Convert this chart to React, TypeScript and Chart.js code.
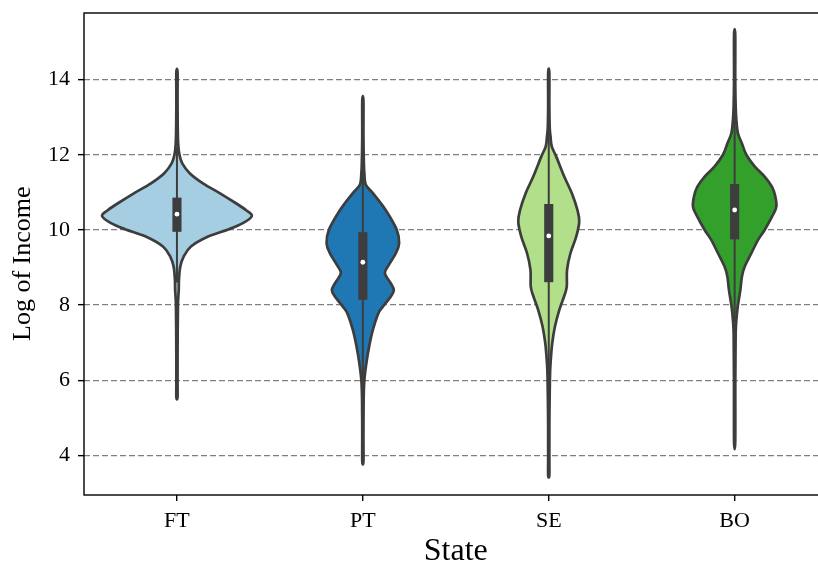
import React, { useEffect, useRef } from "react";
import { Chart, registerables } from "chart.js";

Chart.register(...registerables);

const categories = ["FT", "PT", "SE", "BO"];
const fillColors = ["#a6cee3", "#1f78b4", "#b2df8a", "#33a02c"];
const yTicks = [4, 6, 8, 10, 12, 14];

// density outlines: levels (Log of Income) and half-widths (in category units)
const ftLevels = [14.2, 13.5, 12.8, 12.3, 12.0, 11.77, 11.51, 11.24, 10.98, 10.71, 10.53, 10.37, 10.18, 10.02, 9.82, 9.56, 9.29, 9.02, 8.67, 8.4, 8.0, 7.0, 6.0, 5.55];
const ftHalfWidths = [0.0032, 0.0032, 0.004, 0.0065, 0.0134, 0.0285, 0.0683, 0.1398, 0.2296, 0.3172, 0.371, 0.403, 0.3548, 0.2796, 0.165, 0.0753, 0.036, 0.0177, 0.0108, 0.0097, 0.0054, 0.0036, 0.0032, 0.0032];

const ptLevels = [13.44, 12.5, 11.8, 11.5, 11.2, 10.98, 10.71, 10.44, 10.0, 9.65, 9.38, 9.07, 8.85, 8.58, 8.4, 8.23, 7.96, 7.78, 7.34, 6.9, 6.45, 6.0, 5.5, 4.5, 3.84];
const ptHalfWidths = [0.0032, 0.0032, 0.0054, 0.0081, 0.0161, 0.0538, 0.0968, 0.1344, 0.1828, 0.1952, 0.1774, 0.1398, 0.1183, 0.1505, 0.1667, 0.1505, 0.1075, 0.0833, 0.0538, 0.0339, 0.0188, 0.0081, 0.0043, 0.0032, 0.0032];

const seLevels = [14.18, 13.3, 12.7, 12.48, 12.22, 11.95, 11.42, 10.98, 10.53, 10.22, 9.82, 9.38, 8.94, 8.49, 8.23, 7.87, 7.43, 6.99, 6.54, 6.1, 5.0, 4.0, 3.48];
const seHalfWidths = [0.0032, 0.0032, 0.0054, 0.0097, 0.0161, 0.0403, 0.0833, 0.1237, 0.1543, 0.164, 0.1478, 0.1167, 0.0984, 0.0968, 0.0823, 0.0565, 0.0333, 0.0188, 0.0108, 0.0065, 0.0036, 0.0032, 0.0032];

const boLevels = [15.19, 14.0, 13.3, 12.93, 12.57, 12.3, 12.0, 11.69, 11.42, 11.15, 10.89, 10.62, 10.4, 10.0, 9.73, 9.38, 9.02, 8.76, 8.4, 8.0, 7.69, 7.25, 6.0, 4.37];
const boHalfWidths = [0.0032, 0.0032, 0.0054, 0.0091, 0.0177, 0.0392, 0.0629, 0.1075, 0.1613, 0.2005, 0.2188, 0.2242, 0.2059, 0.1613, 0.1253, 0.0898, 0.0538, 0.0392, 0.0306, 0.0177, 0.0108, 0.0054, 0.0036, 0.0032];

const violinLevels = [ftLevels, ptLevels, seLevels, boLevels];
const violinHalfWidths = [ftHalfWidths, ptHalfWidths, seHalfWidths, boHalfWidths];

const medians = [10.42, 9.14, 9.84, 10.53];
const q1 = [9.95, 8.14, 8.61, 9.75];
const q3 = [10.86, 9.94, 10.69, 11.22];
const whiskerLow = [8.6, 5.45, 5.5, 7.55];
const whiskerHigh = [12.2, 12.6, 13.8, 13.4];

const EDGE = "#3d3d3d";
const FONT = "'Liberation Serif', 'DejaVu Serif', serif";

type P = { x: number; y: number };

function closedSpline(ctx: CanvasRenderingContext2D, pts: P[]) {
  const n = pts.length;
  ctx.moveTo(pts[0].x, pts[0].y);
  for (let i = 0; i < n; i++) {
    const p0 = pts[(i - 1 + n) % n];
    const p1 = pts[i];
    const p2 = pts[(i + 1) % n];
    const p3 = pts[(i + 2) % n];
    ctx.bezierCurveTo(
      p1.x + (p2.x - p0.x) / 6,
      p1.y + (p2.y - p0.y) / 6,
      p2.x - (p3.x - p1.x) / 6,
      p2.y - (p3.y - p1.y) / 6,
      p2.x,
      p2.y
    );
  }
  ctx.closePath();
}

const violinPlugin = {
  id: "violins",
  beforeDatasetsDraw(chart: any) {
    const { ctx, chartArea } = chart;
    const xs = chart.scales.x;
    const ys = chart.scales.y;
    ctx.save();
    ctx.beginPath();
    ctx.rect(chartArea.left, chartArea.top, chartArea.right - chartArea.left, chartArea.bottom - chartArea.top);
    ctx.clip();
    categories.forEach((_, i) => {
      const lv = violinLevels[i];
      const hw = violinHalfWidths[i];
      const right: P[] = lv.map((v, k) => ({ x: xs.getPixelForValue(i + hw[k]), y: ys.getPixelForValue(v) }));
      const left: P[] = lv.map((v, k) => ({ x: xs.getPixelForValue(i - hw[k]), y: ys.getPixelForValue(v) })).reverse();
      const pts = right.concat(left);
      ctx.beginPath();
      closedSpline(ctx, pts);
      ctx.fillStyle = fillColors[i];
      ctx.fill();
      ctx.lineWidth = 2.7;
      ctx.lineJoin = "round";
      ctx.lineCap = "round";
      ctx.strokeStyle = EDGE;
      ctx.stroke();

      // whisker line
      const cx = xs.getPixelForValue(i);
      ctx.beginPath();
      ctx.moveTo(cx, ys.getPixelForValue(whiskerLow[i]));
      ctx.lineTo(cx, ys.getPixelForValue(whiskerHigh[i]));
      ctx.lineWidth = 2;
      ctx.lineCap = "butt";
      ctx.strokeStyle = EDGE;
      ctx.stroke();

      // box
      const bl = xs.getPixelForValue(i - 0.0245);
      const br = xs.getPixelForValue(i + 0.0245);
      const bt = ys.getPixelForValue(q3[i]);
      const bb = ys.getPixelForValue(q1[i]);
      ctx.fillStyle = EDGE;
      ctx.fillRect(bl, bt, br - bl, bb - bt);
    });
    ctx.restore();
  },
};

const framePlugin = {
  id: "frame",
  afterDraw(chart: any) {
    const { ctx, chartArea } = chart;
    ctx.save();
    ctx.strokeStyle = "#000";
    ctx.lineWidth = 1.4;
    ctx.strokeRect(chartArea.left, chartArea.top, chartArea.right - chartArea.left, chartArea.bottom - chartArea.top);
    ctx.restore();
  },
};

export default function App() {
  const ref = useRef<HTMLCanvasElement | null>(null);
  useEffect(() => {
    if (!ref.current) return;
    const chart = new Chart(ref.current, {
      type: "scatter",
      data: {
        datasets: [
          {
            label: "median",
            data: medians.map((m, i) => ({ x: i, y: m })),
            pointRadius: 2.4,
            pointHoverRadius: 2.4,
            backgroundColor: "#ffffff",
            borderWidth: 0,
          },
        ],
      },
      options: {
        responsive: false,
        animation: false,
        devicePixelRatio: 1,
        layout: { padding: { top: 13, right: 2, left: 0, bottom: 0 } },
        plugins: { legend: { display: false }, tooltip: { enabled: false } },
        scales: {
          x: {
            type: "linear",
            min: -0.5,
            max: 3.5,
            afterBuildTicks: (s: any) => {
              s.ticks = categories.map((_, i) => ({ value: i }));
            },
            afterFit: (s: any) => {
              s.height = 68;
              s.paddingLeft = 0;
              s.paddingRight = 0;
            },
            ticks: {
              callback: (v: any) => categories[Math.round(Number(v))] ?? "",
              color: "#000",
              font: { family: FONT, size: 22 },
              padding: 7,
              maxRotation: 0,
              autoSkip: false,
            },
            grid: { display: true, drawOnChartArea: false, drawTicks: true, tickLength: 6, tickColor: "#000", tickWidth: 1.4, lineWidth: 1.4, color: "#000" },
            border: { display: false },
            title: { display: true, text: "State", color: "#000", font: { family: FONT, size: 32, lineHeight: 0.72 }, padding: { top: 0, bottom: 0 } },
          },
          y: {
            type: "linear",
            min: 2.95,
            max: 15.77,
            z: 1,
            afterBuildTicks: (s: any) => {
              s.ticks = yTicks.map((v) => ({ value: v }));
            },
            afterFit: (s: any) => {
              s.width = 84;
              s.paddingTop = 0;
              s.paddingBottom = 0;
            },
            ticks: { color: "#000", font: { family: FONT, size: 22 }, padding: 8 },
            grid: { color: "#808080", lineWidth: 1.3, drawTicks: true, tickLength: 6, tickColor: "#000", tickWidth: 1.4 },
            border: { display: false, dash: [6, 3] },
            title: { display: true, text: "Log of Income\u00a0\u00a0\u00a0", color: "#000", font: { family: FONT, size: 26, lineHeight: 1 }, padding: { top: 10, bottom: 0 } },
          },
        },
      },
      plugins: [violinPlugin, framePlugin],
    } as any);
    return () => chart.destroy();
  }, []);
  return (
    <div style={{ position: "absolute", left: 0, top: 0, width: 818, height: 563, overflow: "hidden", background: "#fff" }}>
      <canvas ref={ref} width={830} height={563} style={{ display: "block" }} />
    </div>
  );
}
